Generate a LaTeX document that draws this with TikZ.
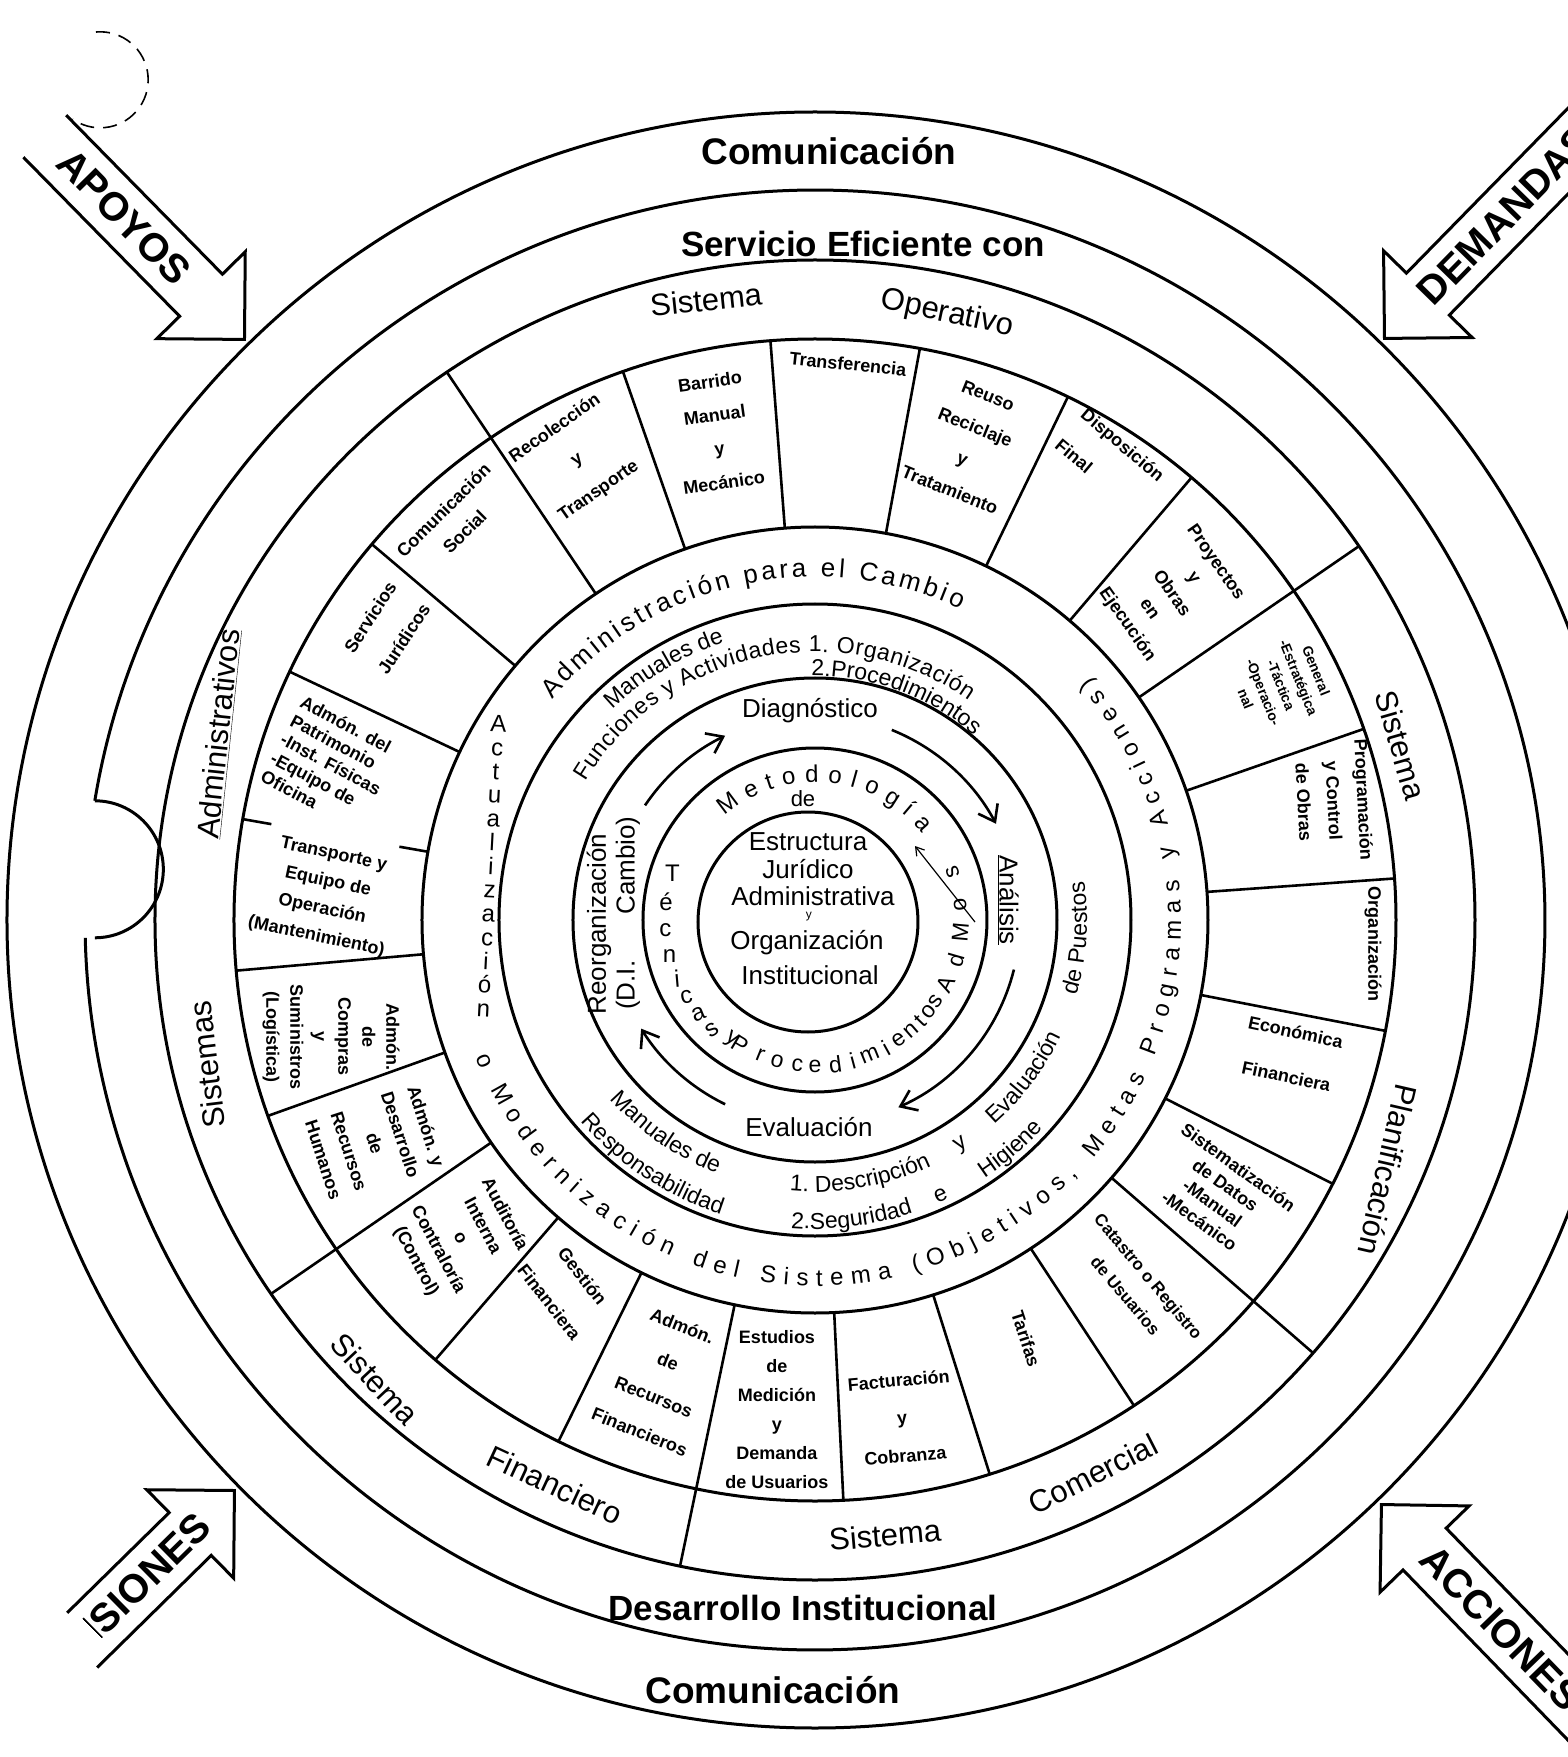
\documentclass[tikz,border=0pt]{standalone}
\usepackage{fontspec}
\setmainfont{Liberation Sans}
\usetikzlibrary{decorations.text,arrows.meta}

\newcommand{\arctext}[6]{%
  \path[decorate,decoration={text along path,text align={#1},
      text={|#2|#6}}] (#4:#3) arc[start angle=#4,end angle=#5,radius=#3];}

\tikzset{
  ring/.style={line width=3pt},
  divider/.style={line width=2.6pt},
  bigtext/.style={font=\bfseries\fontsize{37}{38}\selectfont},
  systext/.style={font=\fontsize{31}{32}\selectfont},
  celltext/.style={font=\bfseries\fontsize{18}{#1}\selectfont,align=center,inner sep=0pt},
  celltext/.default=22,
  innertext/.style={font=\fontsize{26}{27}\selectfont,inner sep=0pt},
  arrowtext/.style={font=\bfseries\fontsize{40}{40}\selectfont},
  cyclearrow/.style={line width=2.6pt,->},
  inputarrow/.style={line width=3pt,fill=white},
}

\begin{document}
\begin{tikzpicture}[x=1pt,y=1pt,>={Straight Barb[length=15pt,width=22pt]}]
  \useasboundingbox (-815,-837) rectangle (753,920);
  \clip (-815,-837) rectangle (753,920);

  \draw[ring] (0,0) circle[radius=808];
  \draw[ring] (181.4:730) arc[start angle=181.4,end angle=530.6,radius=730];
  \draw[ring] (170.6:730) arc[start angle=90,end angle=-90,radius=68.5];
  \draw[ring] (0,0) circle[radius=660];
  \draw[ring] (0,0) circle[radius=581];
  \draw[ring] (0,0) circle[radius=393];
  \draw[ring] (0,0) circle[radius=316];
  \draw[ring] (0,0) circle[radius=242];
  \draw[ring] (0,0) circle[radius=172];
  \draw[ring] (-7,-2) circle[radius=110];
  \draw[line width=1.6pt,dash pattern=on 14pt off 9pt] (-719,888) arc[start angle=95,end angle=-125,radius=48];

  \foreach \a in {109.3,94.4,79.6,64.2,49.6,19.2,4.1,-11,-27,-56.7,-72.5,-87.2,-116.2,-130.8,-160.3,-175,154.7,139.7}
    \draw[divider] (\a:393) -- (\a:581);
  \foreach \a in {123.9,34.5,-41,-101.8,-145.5}
    \draw[divider] (\a:393) -- (\a:660);
  \draw[divider] (170:393) -- (170:422);
  \draw[divider] (170:552) -- (170:581);

  \node[bigtext] (com1) at (14,769) {Comunicación};
  \node[bigtext,font=\bfseries\fontsize{35}{36}\selectfont] (serv) at (48,676) {Servicio Eficiente con};
  \node[bigtext,font=\bfseries\fontsize{35}{36}\selectfont] (desa) at (-12,-688) {Desarrollo Institucional};
  \node[bigtext] (com2) at (-42,-770) {Comunicación};

  \node[systext,rotate=6] (sop1) at (-109,620) {Sistema};
  \node[systext,rotate=-12] (sop2) at (132,606) {Operativo};
  \node[systext,rotate=84] (sad1) at (-596,186) {\underline{Administrativos}};
  \node[systext,rotate=97] (sad2) at (-608,-145) {Sistemas};
  \node[systext,rotate=-47] (sfi1) at (-440,-459) {Sistema};
  \node[systext,rotate=-25] (sfi2) at (-260,-565) {Financiero};
  \node[systext,rotate=5] (sco1) at (70,-615) {Sistema};
  \node[systext,rotate=27] (sco2) at (278,-554) {Comercial};
  \node[systext,rotate=-74] (spl1) at (586,175) {Sistema};
  \node[systext,rotate=-103] (spl2) at (573,-250) {Planificación};

  \node[celltext=30,rotate=45] (c1) at (-361,399) {Comunicación\\Social};
  \node[celltext=38,rotate=35] (c2) at (-238,460) {Recolección\\y\\Transporte};
  \node[celltext=34,rotate=8] (c3) at (-98,488) {Barrido\\Manual\\y\\Mecánico};
  \node[celltext,rotate=-6] (c4) at (33,556) {Transferencia};
  \node[celltext=34,rotate=-22] (c5) at (154,477) {Reuso\\Reciclaje\\y\\Tratamiento};
  \node[celltext=40,rotate=-40,align=left] (c6) at (295,460) {Disposición\\Final};
  \node[celltext=27,rotate=-55] (c7) at (356,326) {Proyectos\\y\\Obras\\en\\Ejecución};
  \node[celltext,rotate=-68,font=\bfseries\fontsize{14}{19}\selectfont] (c8) at (466,235) {General\\-Estratégica\\-Táctica\\-Operacio-\\nal};
  \node[celltext=30,rotate=-87] (c9) at (519,119) {Programación\\y Control\\de Obras};
  \node[celltext,rotate=-90] (c10) at (558,-24) {Organización};
  \node[celltext=45,rotate=-12] (c11) at (476,-134) {Económica\\Financiera};
  \node[celltext=22,rotate=-36] (c12) at (404,-274) {Sistematización\\de Datos\\-Manual\\-Mecánico};
  \node[celltext,rotate=-50,font=\bfseries\fontsize{17}{30}\selectfont] (c13) at (322,-366) {Catastro o Registro\\de Usuarios};
  \node[celltext,rotate=-72] (c14) at (211,-419) {Tarifas};
  \node[celltext=38,rotate=5] (c15) at (87,-498) {Facturación\\y\\Cobranza};
  \node[celltext=29] (c16) at (-38,-490) {Estudios\\de\\Medición\\y\\Demanda\\de Usuarios};
  \node[celltext=38,rotate=-22] (c17) at (-154,-459) {Admón.\\de\\Recursos\\Financieros};
  \node[celltext=42,rotate=-52] (c18) at (-249,-369) {Gestión\\Financiera};
  \node[celltext=25,rotate=-62] (c19) at (-355,-318) {Auditoría\\Interna\\o\\Contraloría\\(Control)};
  \node[celltext=27,rotate=-72] (c20) at (-440,-223) {Admón. y\\Desarrollo\\de\\Recursos\\Humanos};
  \node[celltext=24,rotate=-90] (c21) at (-484,-117) {Admón.\\de\\Compras\\y\\Suministros\\(Logística)};
  \node[celltext=28,rotate=-12] (c22) at (-490,24) {Transporte y\\Equipo de\\Operación\\(Mantenimiento)};
  \node[celltext=21,rotate=-28,align=left] (c23) at (-484,156) {Admón. del\\Patrimonio\\-Inst. Físicas\\-Equipo de\\Oficina};
  \node[celltext=40,rotate=57] (c24) at (-428,292) {Servicios\\Jurídicos};

  \arctext{fit to path}{\fontsize{26}{26}\selectfont}{343}{140}{65}{Administración para el Cambio}
  \node[font=\fontsize{24}{23.8}\selectfont,align=center,inner sep=0pt,rotate=-3] (actu) at (-324,54) {A\\c\\t\\u\\a\\l\\i\\z\\a\\c\\i\\ó\\n};
  \arctext{fit to path}{\fontsize{24}{24}\selectfont}{366}{202}{401.5}{o Modernización del Sistema (Objetivos, Metas Programas y Acciones)}

  \arctext{center}{\fontsize{23}{23}\selectfont}{292}{141}{101}{Manuales de}
  \arctext{fit to path}{\fontsize{23}{23}\selectfont}{268}{149}{55}{Funciones y Actividades 1. Organización}
  \arctext{center}{\fontsize{23}{23}\selectfont}{244}{94}{46}{2.Procedimientos}
  \arctext{center}{\fontsize{23}{23}\selectfont}{272}{210}{260}{Manuales de}
  \arctext{center}{\fontsize{23}{23}\selectfont}{272}{260}{300}{1. Descripción}
  \arctext{center}{\fontsize{23}{23}\selectfont}{272}{299}{307}{y}
  \arctext{center}{\fontsize{23}{23}\selectfont}{272}{307}{339}{Evaluación}
  \arctext{center}{\fontsize{23}{23}\selectfont}{272}{339}{373}{de Puestos}
  \arctext{center}{\fontsize{23}{23}\selectfont}{309}{210}{263}{Responsabilidad}
  \arctext{center}{\fontsize{23}{23}\selectfont}{309}{263}{291}{2.Seguridad}
  \arctext{center}{\fontsize{23}{23}\selectfont}{309}{291}{298}{e}
  \arctext{center}{\fontsize{23}{23}\selectfont}{309}{299}{322}{Higiene}

  \node[innertext] (diag) at (-5,209) {Diagnóstico};
  \node[innertext,rotate=-90] (anal) at (193,20) {\underline{Análisis}};
  \node[innertext] (eval) at (-6,-207) {Evaluación};
  \node[innertext,rotate=90] (reorg) at (-216,-4) {Reorganización};
  \node[innertext,rotate=90] (dicam) at (-187,7) {(D.I.\hspace{46pt}Cambio)};
  \draw[cyclearrow] (146:205) arc[start angle=146,end angle=116,radius=205];
  \draw[cyclearrow] (68:205) arc[start angle=68,end angle=28,radius=205];
  \draw[cyclearrow] (-14:205) arc[start angle=-14,end angle=-66,radius=205];
  \draw[cyclearrow] (-116:205) arc[start angle=-116,end angle=-148,radius=205];

  \arctext{fit to path}{\fontsize{24}{24}\selectfont}{138}{131}{39}{Metodología}
  \node[font=\fontsize{22}{22}\selectfont,inner sep=0pt] (mde) at (-12,121) {de};
  \foreach \ch/\ang/\rot in {T/162/0,é/173/0,c/184/0,n/194/0,i/203/5,c/211/12,a/219/22,s/227/32}
    \node[innertext,font=\fontsize{24}{24}\selectfont,rotate=\rot] (tq\ang) at (\ang:150) {\ch};
  \foreach \ch/\ang in {y/235,P/239,r/248,o/255,c/263,e/270,d/278,i/285,m/292,i/299,e/305,n/311,t/316,o/321,s/326,A/334,d/344,M/355,o/366,s/379}
    \node[innertext,font=\fontsize{23}{23}\selectfont,rotate=\ang+90] (pq\ang) at (\ang:146) {\ch};
  \draw[line width=1.2pt,-{Straight Barb[length=8pt,width=10pt]}] (160,-2) -- (100,74);

  \node[innertext] (est1) at (-7,78) {Estructura};
  \node[innertext] (est2) at (-7,51) {Jurídico};
  \node[innertext] (est3) at (-2,24) {Administrativa};
  \node[font=\fontsize{12}{12}\selectfont,inner sep=0pt] (est4) at (-6,3) {y};
  \node[innertext] (est5) at (-8,-23) {Organización};
  \node[innertext] (est6) at (-5,-55) {Institucional};

  \begin{scope}[shift={(134.5:814)},rotate=134.5]
    \draw[inputarrow] (285,30) -- (62,30) -- (62,62) -- (0,0) -- (62,-62) -- (62,-30) -- (285,-30);
    \node[arrowtext,rotate=-45.5] (apoyos) at (172,0) {APOYOS};
  \end{scope}
  \begin{scope}[shift={(45.6:814)},rotate=45.6]
    \draw[inputarrow] (360,30) -- (62,30) -- (62,62) -- (0,0) -- (62,-62) -- (62,-30) -- (360,-30);
    \node[arrowtext,rotate=45.6] (demandas) at (172,0) {DEMANDAS};
  \end{scope}
  \begin{scope}[shift={(-135.5:814)},rotate=-135.5]
    \draw[inputarrow] (222,30) -- (62,30) -- (62,62) -- (0,0) -- (62,-62) -- (62,-30) -- (205,-30);
    \begin{scope}
      \clip (0,-40) rectangle (198,40);
      \node[arrowtext,rotate=44.5] (decisiones) at (166,0) {DECISIONES};
    \end{scope}
  \end{scope}
  \begin{scope}[shift={(-45.9:814)},rotate=-45.9]
    \draw[inputarrow] (360,30) -- (62,30) -- (62,62) -- (0,0) -- (62,-62) -- (62,-30) -- (360,-30);
    \node[arrowtext,rotate=-45.9] (acciones) at (172,0) {ACCIONES};
  \end{scope}
\end{tikzpicture}
\end{document}
